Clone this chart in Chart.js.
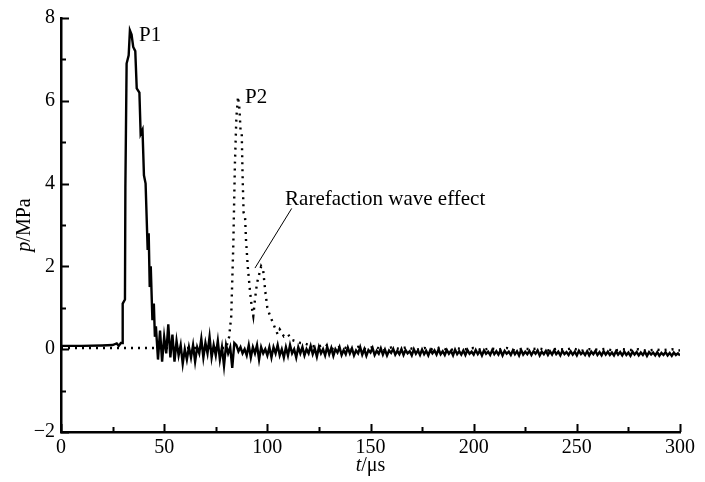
<!DOCTYPE html>
<html>
<head>
<meta charset="utf-8">
<script src="https://cdn.jsdelivr.net/npm/chart.js@4/dist/chart.umd.min.js"></script>
<style>
  body { margin: 0; background: #fff; }
  #wrap { width: 705px; height: 482px; position: relative; }
</style>
</head>
<body>
<div id="wrap"><canvas id="pChart"></canvas></div>
<script>
//solid trace (P1) - time in us, pressure in MPa
const solidT = [0, 10, 20, 25, 27, 28, 29, 29.6, 29.9, 31, 31.2, 31.8, 32.8, 33.4, 34.2, 35, 36, 36.7, 38, 38.6, 39.5, 40.2, 41, 41.5, 42, 42.5, 43, 43.5, 44.3, 45, 45.5,
  46, 47, 48, 49, 50, 51, 52, 53, 54, 55, 56, 57, 58, 59, 60, 61, 62, 63, 64, 65, 66, 67, 68, 69, 70, 71, 72, 73, 74, 75, 76, 77, 78, 79, 80,
  81, 82, 83, 84, 85, 86, 87, 88, 89, 90, 91, 92, 93, 94, 95, 96, 97, 98, 99, 100, 101, 102, 103, 104, 105, 106, 107, 108, 109, 110,
  111, 112, 113, 114, 115, 116, 117, 118, 119, 120,
  121, 122, 123, 124, 125, 126, 127, 128, 129, 130, 131, 132, 133, 134, 135, 136, 137, 138, 139, 140,
  141, 142, 143, 144, 145, 146, 147, 148, 149, 150, 151, 152, 153, 154, 155, 156, 157, 158, 159, 160,
  161, 162, 163, 164, 165, 166, 167, 168, 169, 170, 171, 172, 173, 174, 175, 176, 177, 178, 179, 180,
  181, 182, 183, 184, 185, 186, 187, 188, 189, 190, 191, 192, 193, 194, 195, 196, 197, 198, 199, 200,
  201, 202, 203, 204, 205, 206, 207, 208, 209, 210, 211, 212, 213, 214, 215, 216, 217, 218, 219, 220,
  221, 222, 223, 224, 225, 226, 227, 228, 229, 230, 231, 232, 233, 234, 235, 236, 237, 238, 239, 240,
  241, 242, 243, 244, 245, 246, 247, 248, 249, 250, 251, 252, 253, 254, 255, 256, 257, 258, 259, 260,
  261, 262, 263, 264, 265, 266, 267, 268, 269, 270, 271, 272, 273, 274, 275, 276, 277, 278, 279, 280,
  281, 282, 283, 284, 285, 286, 287, 288, 289, 290, 291, 292, 293, 294, 295, 296, 297, 298, 299, 300];
const solidP = [0.08, 0.08, 0.09, 0.1, 0.14, 0.08, 0.15, 0.15, 1.1, 1.2, 3.9, 6.9, 7.1, 7.7, 7.6, 7.3, 7.2, 6.3, 6.2, 5.2, 5.3, 4.2, 4.0, 3.2, 2.4, 2.8, 1.5, 2.0, 0.7, 1.1, 0.3,
  0.55, -0.25, 0.45, -0.3, 0.3, -0.1, 0.6, -0.2, 0.35, -0.3, 0.2, -0.15, 0.1, -0.35, 0.0, -0.25, 0.05, -0.2, 0.1, -0.3, 0.05, -0.1, 0.25, -0.2, 0.15, -0.1, 0.3, -0.2, 0.1, -0.15, 0.2, -0.25, 0.05, -0.4, 0.1,
  -0.1, 0.05, -0.45, 0.15, 0.1, -0.05, 0.05, -0.1, 0.0, -0.15, 0.1, -0.2, 0.05, -0.1, 0.1, -0.25, 0.05, -0.1, 0.0, -0.15, 0.05, -0.2, 0.05, -0.1, 0.1, -0.15, 0.0, -0.2, 0.05, -0.15,
  0.1, -0.1, 0.0, -0.2, 0.05, -0.1, 0.05, -0.15, 0.0, -0.1,
  0.08, -0.12, 0.02, -0.18, 0.05, -0.1, 0.0, -0.15, 0.06, -0.12, 0.03, -0.16, 0.0, -0.08, 0.05, -0.14, -0.02, -0.12, 0.04, -0.1,
  0.02, -0.15, -0.03, -0.1, 0.05, -0.13, 0.0, -0.16, -0.02, -0.08, 0.03, -0.14, -0.04, -0.11, 0.02, -0.13, -0.01, -0.15, -0.03, -0.09,
  0.01, -0.13, -0.04, -0.12, 0.0, -0.14, -0.02, -0.1, -0.05, -0.15, 0.0, -0.11, -0.03, -0.14, -0.01, -0.12, -0.04, -0.15, -0.02, -0.1,
  -0.03, -0.13, 0.0, -0.12, -0.05, -0.14, -0.02, -0.11, -0.04, -0.15, -0.01, -0.12, -0.05, -0.13, -0.03, -0.14, -0.02, -0.11, -0.06, -0.13,
  -0.02, -0.12, -0.04, -0.15, -0.03, -0.11, -0.06, -0.14, -0.02, -0.12, -0.05, -0.13, -0.03, -0.15, -0.04, -0.11, -0.06, -0.14, -0.03, -0.12,
  -0.05, -0.15, -0.02, -0.13, -0.06, -0.12, -0.04, -0.14, -0.05, -0.11, -0.03, -0.15, -0.06, -0.12, -0.04, -0.14, -0.05, -0.13, -0.03, -0.12,
  -0.06, -0.15, -0.04, -0.12, -0.07, -0.14, -0.05, -0.13, -0.06, -0.15, -0.04, -0.12, -0.07, -0.14, -0.05, -0.15, -0.06, -0.12, -0.04, -0.14,
  -0.07, -0.15, -0.05, -0.13, -0.06, -0.14, -0.08, -0.15, -0.05, -0.13, -0.07, -0.15, -0.06, -0.14, -0.08, -0.16, -0.06, -0.13, -0.07, -0.15,
  -0.08, -0.14, -0.06, -0.16, -0.07, -0.13, -0.08, -0.15, -0.07, -0.16, -0.09, -0.14, -0.07, -0.15, -0.09, -0.16, -0.08, -0.14, -0.1, -0.15];

//dotted trace (P2)
const dotT = [0, 80, 81.5, 82.5, 83.5, 84.3, 85, 85.8, 86.5, 87, 87.6, 88, 88.5, 89.2, 89.7, 90.6, 91.6, 92.5, 93.2, 94, 95, 96, 97, 98, 99, 100,
  101, 103, 105, 106, 108, 110, 112, 114, 116, 118, 120,
  124, 128, 132, 136, 140, 144, 148, 152, 156, 160, 164, 168, 172, 176, 180, 184, 188, 192, 196, 200,
  204, 208, 212, 216, 220, 224, 228, 232, 236, 240, 244, 248, 252, 256, 260, 264, 268, 272, 276, 280,
  284, 288, 292, 296, 300];
const dotP = [0.03, 0.03, 0.3, 0.8, 2.5, 4.5, 5.6, 6.1, 5.8, 5.3, 5.2, 4.2, 3.3, 3.2, 2.6, 1.95, 1.4, 1.0, 0.8, 1.2, 1.6, 1.8, 2.0, 1.9, 1.4, 1.0,
  0.85, 0.6, 0.36, 0.48, 0.31, 0.36, 0.22, 0.19, 0.15, 0.14, 0.1,
  0.05, 0.12, 0.0, 0.08, -0.02, 0.06, 0.0, 0.07, -0.03, 0.04, 0.01, 0.05, -0.02, 0.03, 0.0, 0.04, -0.03, 0.02, 0.0, 0.03,
  -0.02, 0.02, -0.01, 0.03, -0.03, 0.01, 0.0, 0.02, -0.03, 0.01, -0.01, 0.02, -0.04, 0.0, -0.01, 0.01, -0.04, 0.0, -0.02, 0.0,
  -0.04, -0.01, -0.02, 0.0, -0.03];

//axis settings
const xMin = 0, xMax = 300, xStep = 50;
const yMin = -2, yMax = 8, yStep = 2;

//annotations [text, t, p]
const notes = [['P1', 37.8, 7.45], ['P2', 89.2, 5.94], ['Rarefaction wave effect', 108.6, 3.49]];
const leader = [[111.8, 3.40], [94.0, 1.96]];

const FONT = '"Liberation Serif", "DejaVu Serif", serif';

function pts(ts, ps) {
    return ts.map((t, i) => ({ x: t, y: ps[i] }));
}

//draws inward ticks, axis titles and the text notes
const decor = {
    id: 'decor',
    afterDraw(chart) {
        const ctx = chart.ctx;
        const xs = chart.scales.x, ys = chart.scales.y;
        const left = chart.chartArea.left, bottom = chart.chartArea.bottom;
        ctx.save();
        ctx.strokeStyle = '#000';
        ctx.lineWidth = 2;
        ctx.beginPath();
        for (let v = xMin; v <= xMax; v += xStep / 2) {
            const px = Math.round(xs.getPixelForValue(v)) + 0.5;
            const len = (v % xStep === 0) ? 8 : 5;
            ctx.moveTo(px, bottom);
            ctx.lineTo(px, bottom - len);
        }
        for (let v = yMin; v <= yMax; v += yStep / 2) {
            const py = Math.round(ys.getPixelForValue(v)) + 0.5;
            const len = (v % yStep === 0) ? 8 : 5;
            ctx.moveTo(left, py);
            ctx.lineTo(left + len, py);
        }
        ctx.stroke();

        ctx.fillStyle = '#000';
        ctx.textBaseline = 'alphabetic';
        //x title
        ctx.font = 'italic 20px ' + FONT;
        const w1 = ctx.measureText('t').width;
        ctx.font = '20px ' + FONT;
        const w2 = ctx.measureText('/μs').width;
        let cx = (chart.chartArea.left + chart.chartArea.right) / 2 - (w1 + w2) / 2;
        ctx.font = 'italic 20px ' + FONT;
        ctx.fillText('t', cx, 471);
        ctx.font = '20px ' + FONT;
        ctx.fillText('/μs', cx + w1, 471);

        //y title
        ctx.save();
        ctx.translate(30, (chart.chartArea.top + chart.chartArea.bottom) / 2);
        ctx.rotate(-Math.PI / 2);
        ctx.font = 'italic 20px ' + FONT;
        const w3 = ctx.measureText('p').width;
        ctx.font = '20px ' + FONT;
        const w4 = ctx.measureText('/MPa').width;
        const sx = -(w3 + w4) / 2;
        ctx.font = 'italic 20px ' + FONT;
        ctx.fillText('p', sx, 0);
        ctx.font = '20px ' + FONT;
        ctx.fillText('/MPa', sx + w3, 0);
        ctx.restore();

        //notes
        ctx.font = '21px ' + FONT;
        notes.forEach(n => {
            ctx.fillText(n[0], xs.getPixelForValue(n[1]), ys.getPixelForValue(n[2]));
        });
        ctx.lineWidth = 1;
        ctx.beginPath();
        ctx.moveTo(xs.getPixelForValue(leader[0][0]), ys.getPixelForValue(leader[0][1]));
        ctx.lineTo(xs.getPixelForValue(leader[1][0]), ys.getPixelForValue(leader[1][1]));
        ctx.stroke();
        ctx.restore();
    }
};

const config = {
    type: 'line',
    data: {
        datasets: [{
            label: 'P1',
            data: pts(solidT, solidP),
            borderColor: '#000',
            borderWidth: 2.4,
            pointRadius: 0,
            tension: 0,
            fill: false
        },
        {
            label: 'P2',
            data: pts(dotT, dotP),
            borderColor: '#000',
            borderWidth: 2.4,
            borderDash: [2, 5],
            pointRadius: 0,
            tension: 0,
            fill: false
        }]
    },
    options: {
        responsive: true,
        maintainAspectRatio: false,
        animation: false,
        layout: { padding: { top: 15, right: 25, left: 0, bottom: 0 } },
        plugins: {
            legend: { display: false },
            tooltip: { enabled: false }
        },
        scales: {
            x: {
                type: 'linear',
                min: xMin,
                max: xMax,
                afterFit(scale) { scale.height = 50; },
                grid: { display: false, drawTicks: false, tickLength: 0 },
                border: { display: true, color: '#000', width: 2.5 },
                ticks: {
                    stepSize: xStep,
                    color: '#000',
                    padding: 4,
                    maxRotation: 0,
                    font: { family: FONT, size: 20 }
                }
            },
            y: {
                min: yMin,
                max: yMax,
                afterFit(scale) { scale.width = 61; },
                grid: { display: false, drawTicks: false, tickLength: 0 },
                border: { display: true, color: '#000', width: 2.5 },
                ticks: {
                    stepSize: yStep,
                    color: '#000',
                    padding: 6,
                    font: { family: FONT, size: 20 },
                    callback: v => v < 0 ? '\u2212' + Math.abs(v) : String(v)
                }
            }
        }
    },
    plugins: [decor]
};

window.onload = function() {
    const ctx = document.getElementById('pChart').getContext('2d');
    window.pChart = new Chart(ctx, config);
};
</script>
</body>
</html>
